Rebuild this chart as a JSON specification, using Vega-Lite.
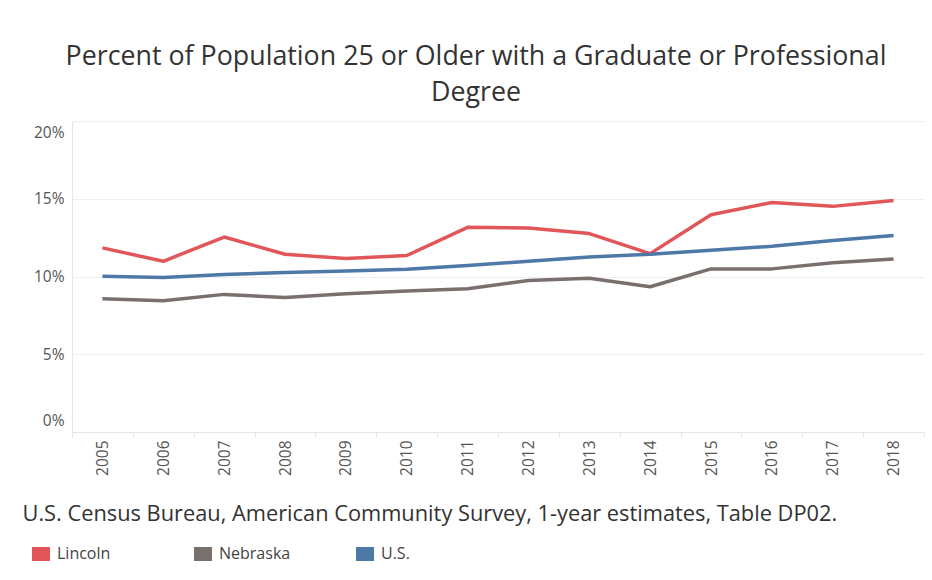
{
  "$schema": "https://vega.github.io/schema/vega-lite/v6.json",
  "width": 852,
  "height": 311,
  "autosize": {"type": "none"},
  "padding": {"left": 72, "top": 121, "right": 8, "bottom": 148},
  "background": "white",
  "config": {
    "font": "Open Sans",
    "view": {"stroke": null}
  },
  "title": {
    "text": ["Percent of Population 25 or Older with a Graduate or Professional", "Degree"],
    "fontSize": 26.8,
    "fontWeight": "normal",
    "color": "#333333",
    "anchor": "middle",
    "dx": -22,
    "offset": 14,
    "lineHeight": 36,
    "font": "Open Sans"
  },
  "data": {
    "values": [
      {"year": "2005", "area": "Lincoln", "pct": 0.1184},
      {"year": "2006", "area": "Lincoln", "pct": 0.1098},
      {"year": "2007", "area": "Lincoln", "pct": 0.1254},
      {"year": "2008", "area": "Lincoln", "pct": 0.1143},
      {"year": "2009", "area": "Lincoln", "pct": 0.1115},
      {"year": "2010", "area": "Lincoln", "pct": 0.1135},
      {"year": "2011", "area": "Lincoln", "pct": 0.1316},
      {"year": "2012", "area": "Lincoln", "pct": 0.1312},
      {"year": "2013", "area": "Lincoln", "pct": 0.1276},
      {"year": "2014", "area": "Lincoln", "pct": 0.1147},
      {"year": "2015", "area": "Lincoln", "pct": 0.1397},
      {"year": "2016", "area": "Lincoln", "pct": 0.1476},
      {"year": "2017", "area": "Lincoln", "pct": 0.1451},
      {"year": "2018", "area": "Lincoln", "pct": 0.1489},
      {"year": "2005", "area": "Nebraska", "pct": 0.0857},
      {"year": "2006", "area": "Nebraska", "pct": 0.0844},
      {"year": "2007", "area": "Nebraska", "pct": 0.0885},
      {"year": "2008", "area": "Nebraska", "pct": 0.0865},
      {"year": "2009", "area": "Nebraska", "pct": 0.0889},
      {"year": "2010", "area": "Nebraska", "pct": 0.0906},
      {"year": "2011", "area": "Nebraska", "pct": 0.0921},
      {"year": "2012", "area": "Nebraska", "pct": 0.0974},
      {"year": "2013", "area": "Nebraska", "pct": 0.0989},
      {"year": "2014", "area": "Nebraska", "pct": 0.0934},
      {"year": "2015", "area": "Nebraska", "pct": 0.1049},
      {"year": "2016", "area": "Nebraska", "pct": 0.1049},
      {"year": "2017", "area": "Nebraska", "pct": 0.1088},
      {"year": "2018", "area": "Nebraska", "pct": 0.1113},
      {"year": "2005", "area": "U.S.", "pct": 0.1002},
      {"year": "2006", "area": "U.S.", "pct": 0.0994},
      {"year": "2007", "area": "U.S.", "pct": 0.1013},
      {"year": "2008", "area": "U.S.", "pct": 0.1026},
      {"year": "2009", "area": "U.S.", "pct": 0.1036},
      {"year": "2010", "area": "U.S.", "pct": 0.1047},
      {"year": "2011", "area": "U.S.", "pct": 0.1070},
      {"year": "2012", "area": "U.S.", "pct": 0.1098},
      {"year": "2013", "area": "U.S.", "pct": 0.1126},
      {"year": "2014", "area": "U.S.", "pct": 0.1143},
      {"year": "2015", "area": "U.S.", "pct": 0.1169},
      {"year": "2016", "area": "U.S.", "pct": 0.1194},
      {"year": "2017", "area": "U.S.", "pct": 0.1231},
      {"year": "2018", "area": "U.S.", "pct": 0.1263}
    ]
  },
  "mark": {"type": "line", "strokeWidth": 3.5, "strokeJoin": "round"},
  "encoding": {
    "x": {
      "field": "year",
      "type": "ordinal",
      "bandPosition": 0.5,
      "scale": {"type": "band", "paddingInner": 0, "paddingOuter": 0},
      "axis": {
        "title": "U.S. Census Bureau, American Community Survey, 1-year estimates, Table DP02.",
        "titleFont": "Open Sans",
        "titleFontSize": 21.8,
        "titleFontWeight": "normal",
        "titleColor": "#333333",
        "titleAnchor": "start",
        "titleAlign": "left",
        "titleBaseline": "middle",
        "titleX": -50,
        "titleY": 81,
        "labelAngle": -90,
        "labelAlign": "right",
        "labelBaseline": "middle",
        "labelFontSize": 15.5,
        "labelColor": "#555555",
        "labelPadding": 3,
        "tickBand": "extent",
        "tickSize": 5,
        "tickColor": "#e6e6e6",
        "domainColor": "#e6e6e6",
        "grid": false
      }
    },
    "y": {
      "field": "pct",
      "type": "quantitative",
      "scale": {"domain": [0, 0.2], "nice": false},
      "axis": {
        "title": null,
        "format": ".0%",
        "values": [0, 0.05, 0.1, 0.15, 0.2],
        "labelFontSize": 15.5,
        "labelColor": "#555555",
        "labelPadding": 8,
        "ticks": false,
        "domainColor": "#e6e6e6",
        "gridColor": "#efefef",
        "labelFlush": 12,
        "labelFlushOffset": -4
      }
    },
    "color": {
      "field": "area",
      "type": "nominal",
      "scale": {"domain": ["Lincoln", "Nebraska", "U.S."], "range": ["#e15759", "#79706e", "#4e79a7"]},
      "legend": {
        "title": null,
        "orient": "none",
        "legendX": -40,
        "legendY": 424,
        "direction": "horizontal",
        "columns": 3,
        "gridAlign": "all",
        "columnPadding": 65,
        "symbolType": "M-1,-0.78H1V0.78H-1Z",
        "symbolSize": 324,
        "symbolStrokeWidth": 0,
        "symbolOffset": 0,
        "labelFontSize": 16,
        "labelColor": "#444444",
        "labelFont": "Open Sans",
        "labelOffset": 7,
        "encode": {
          "symbols": {
            "update": {
              "fill": {"scale": "color", "field": "value"},
              "fillOpacity": {"value": 1},
              "opacity": {"value": 1}
            }
          }
        }
      }
    }
  }
}
